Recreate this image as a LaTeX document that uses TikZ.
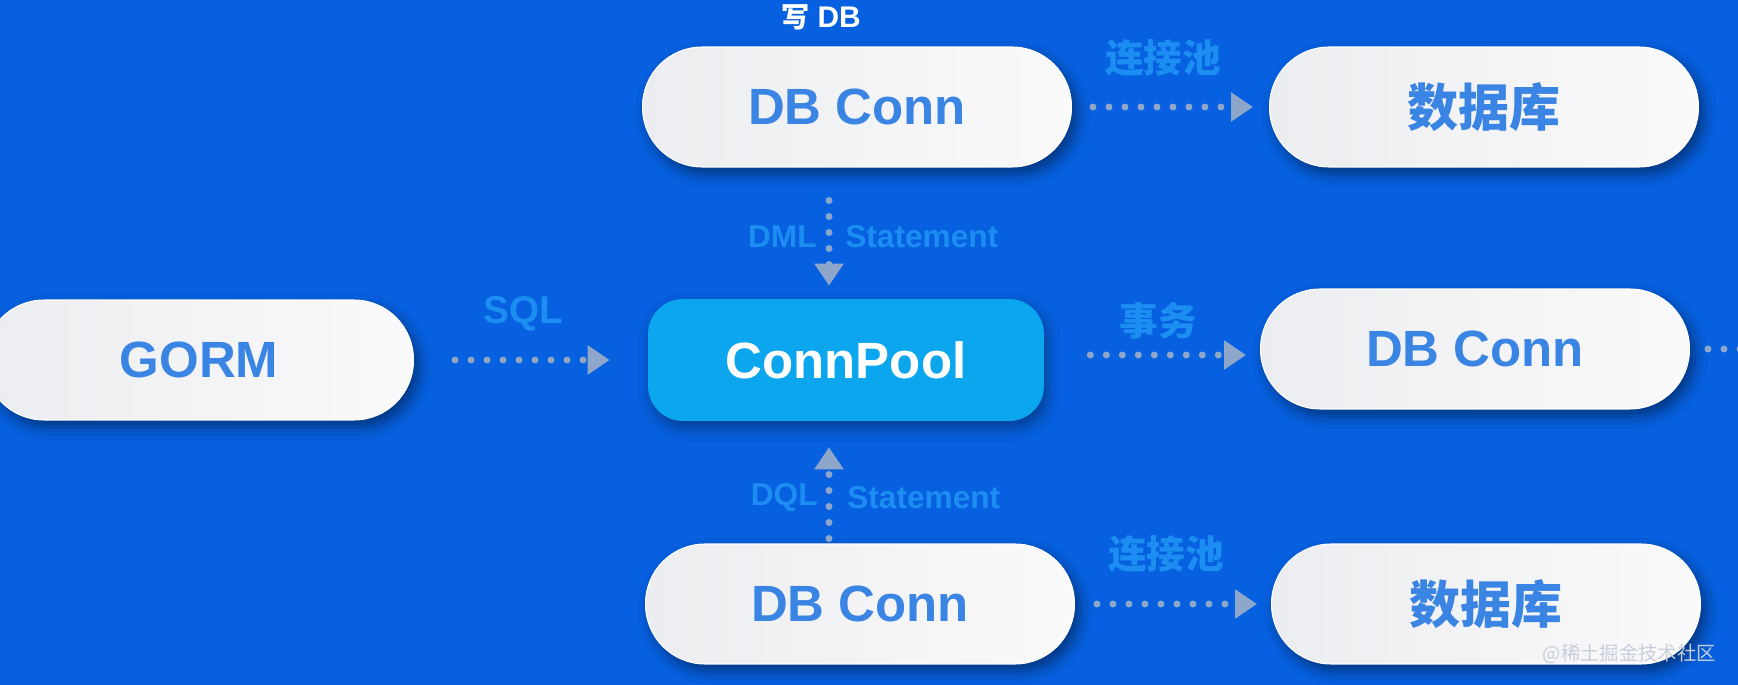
\documentclass[tikz,border=0pt]{standalone}
\usepackage{fontspec}
\setmainfont{Liberation Sans}
\newfontfamily\cjk{Noto Sans CJK SC}
\usetikzlibrary{arrows.meta,shadows.blur}
\definecolor{bgblue}{RGB}{6,96,224}
\definecolor{pillgray}{RGB}{236,237,240}
\definecolor{pillwhite}{RGB}{250,250,251}
\definecolor{pilltext}{RGB}{58,132,228}
\definecolor{poolblue}{RGB}{12,166,238}
\definecolor{lblblue}{RGB}{28,142,242}
\definecolor{dotgray}{RGB}{142,166,202}
\definecolor{markgray}{RGB}{200,206,218}
\tikzset{
	every pill/.style={
		rectangle,
		rounded corners=1.19cm,
		draw=white,
		line width=0.6pt,
		left color=pillgray,
		right color=pillwhite,
		minimum width=8.58cm,
		minimum height=2.4cm,
		text=pilltext,
		font=\fontsize{29}{34}\selectfont\bfseries,
		blur shadow={shadow xshift=3pt, shadow yshift=-4pt, shadow blur radius=7pt, shadow opacity=45}
	},
	pool/.style={
		rectangle,
		rounded corners=0.7cm,
		fill=poolblue,
		minimum width=7.92cm,
		minimum height=2.44cm,
		text=white,
		font=\fontsize{29}{34}\selectfont\bfseries,
		blur shadow={shadow xshift=2pt, shadow yshift=-4pt, shadow blur radius=7pt, shadow opacity=35}
	},
	flow/.style={
		draw=dotgray,
		line width=0.14cm,
		line cap=round,
		dash pattern=on 0pt off 0.32cm,
		->
	},
	flow label/.style={
		text=lblblue,
		inner sep=0pt,
		font=\fontsize{22}{26}\selectfont\bfseries
	},
	stmt label/.style={
		text=lblblue,
		inner sep=0pt,
		font=\fontsize{18}{22}\selectfont\bfseries
	},
}
\begin{document}
\begin{tikzpicture}[x=0.02cm, y=-0.02cm, >={Triangle[length=0.44cm,width=0.56cm]}]

\fill [bgblue] (0,0) rectangle (1738,685);
\useasboundingbox (0,0) rectangle (1738,685);

\foreach \n/\t/\x/\y in {gorm/GORM/199/360, dbw/DB Conn/857/107, dbm/DB Conn/1475/349, dbr/DB Conn/860/604}
	\node [every pill/.try] (\n) at (\x,\y) {\t};

\foreach \n/\x/\y in {dbtop/1484/107, dbbot/1486/604}
	\node [every pill/.try] (\n) at (\x,\y) {\cjk 数据库};

\node [pool] (pool) at (846,360) {ConnPool};

\node [text=white, inner sep=0pt, font=\fontsize{17}{20}\selectfont\bfseries] (write) at (821,17) {{\cjk\fontsize{16}{20}\selectfont 写} DB};

\coordinate (offr) at (1800,349);

\draw [flow, shorten <=0.82cm, shorten >=0.76cm] (gorm.east) -- (pool.west);
\draw [flow, shorten <=0.92cm, shorten >=0.28cm] ([yshift=0.1cm]pool.east) -- ([yshift=-0.12cm]dbm.west);
\draw [flow, shorten <=0.42cm, shorten >=0.32cm] (dbw.east) -- (dbtop.west);
\draw [flow, shorten <=0.44cm, shorten >=0.28cm] (dbr.east) -- (dbbot.west);
\draw [flow, shorten <=0.66cm, shorten >=0.26cm] ([xshift=-0.56cm]dbw.south) -- ([xshift=-0.34cm]pool.north);
\draw [flow, shorten <=0.1cm, shorten >=0.52cm] ([xshift=-0.62cm]dbr.north) -- ([xshift=-0.34cm]pool.south);
\draw [flow, shorten <=0.36cm] (dbm.east) -- (offr);

\node [flow label] (sql) at (523,314) {SQL};
\node [flow label] (tx) at (1158,321) {\cjk 事务};
\node [flow label] (pooltop) at (1163,58) {\cjk 连接池};
\node [flow label] (poolbot) at (1166,554) {\cjk 连接池};

\node [stmt label, anchor=east] (dml) at (817,237) {DML};
\node [stmt label, anchor=west] (dmlst) at (845,237) {Statement};
\node [stmt label, anchor=east] (dql) at (818,498) {DQL};
\node [stmt label, anchor=west] (dqlst) at (847,498) {Statement};

\node [anchor=east, inner sep=0pt, text=markgray, font=\cjk\fontsize{11}{13}\selectfont] (mark) at (1716,654) {@稀土掘金技术社区};

\end{tikzpicture}
\end{document}
